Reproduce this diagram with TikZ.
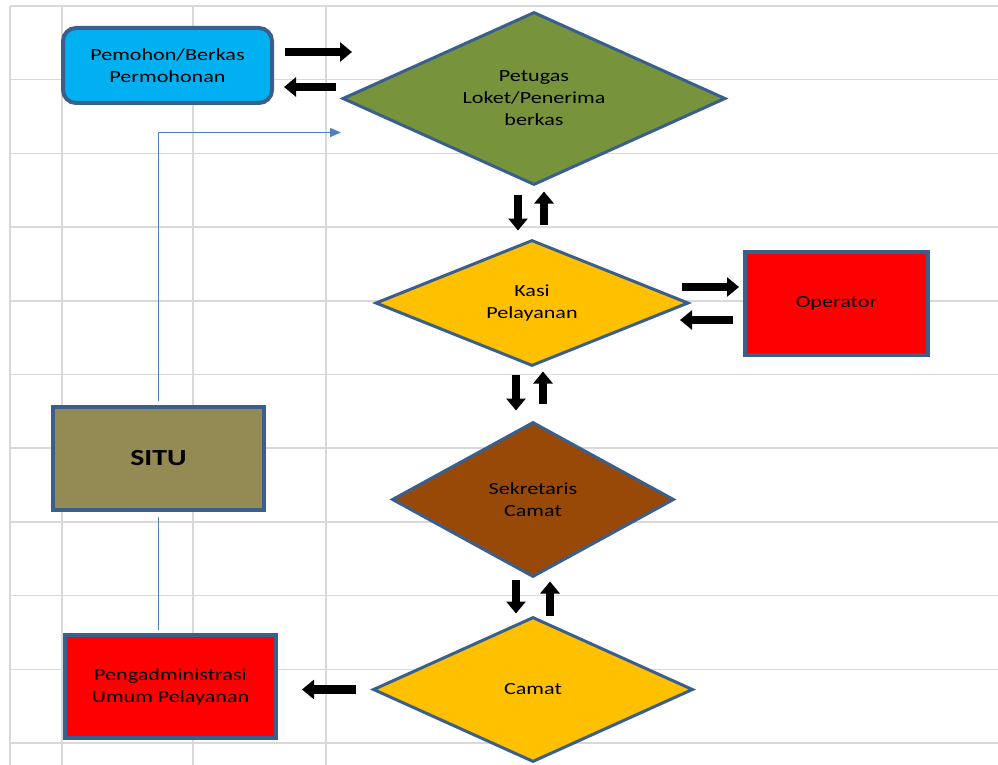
\documentclass[tikz,border=0pt]{standalone}
\usepackage{fontspec}
\setmainfont{Carlito}[FakeStretch=1.3]
\usetikzlibrary{shapes.geometric,arrows.meta}
\definecolor{gridc}{HTML}{D9D9D9}
\definecolor{bord}{HTML}{3B5F8C}
\definecolor{cyanf}{HTML}{00B0F0}
\definecolor{olivef}{HTML}{77933C}
\definecolor{goldf}{HTML}{FFC000}
\definecolor{brownf}{HTML}{984807}
\definecolor{khakif}{HTML}{948A54}
\definecolor{redf}{HTML}{FF0000}
\definecolor{bluel}{HTML}{4F81BD}
\tikzset{
  gridline/.style={draw=gridc, line width=1.5pt},
  box/.style={rectangle, draw=bord, line width=4pt, inner sep=0pt, align=center,
     font=\fontsize{17}{22}\selectfont},
  dia/.style={diamond, draw=bord, line width=3pt, inner sep=0pt, align=center,
     font=\fontsize{17}{22}\selectfont},
  bigarr/.style={line width=8.5pt, -{Triangle[width=19pt,length=12pt]}},
  blueline/.style={draw=bluel, line width=1.3pt},
}
\begin{document}
\begin{tikzpicture}[x=1pt,y=-1pt]
\useasboundingbox (0,0) rectangle (998,765);
% grid
\foreach \k in {0,...,10} {
  \draw[gridline] (10,{6+73.7*\k}) -- (998,{6+73.7*\k});
}
\foreach \xx in {10,62,193,326} {
  \draw[gridline] (\xx,6) -- (\xx,765);
}
% nodes
\node[box, rounded corners=13pt, fill=cyanf, minimum width=209pt, minimum height=75pt]
  (pem) at (167.5,65.5) {Pemohon/Berkas\\Permohonan};
\node[dia, fill=olivef, minimum width=383pt, minimum height=173pt, aspect=2.2]
  (pet) at (534,98.5) {Petugas\\Loket/Penerima\\berkas};
\node[dia, fill=goldf, minimum width=313pt, minimum height=126pt, aspect=2.48]
  (kasi) at (532,303) {Kasi\\Pelayanan};
\node[box, fill=redf, minimum width=183pt, minimum height=103pt]
  (op) at (836.5,303.5) {Operator};
\node[dia, fill=brownf, minimum width=282pt, minimum height=155pt, aspect=1.82]
  (sek) at (533,499.5) {Sekretaris\\Camat};
\node[dia, fill=goldf, minimum width=320pt, minimum height=145pt, aspect=2.2]
  (cam) at (533,689.5) {Camat};
\node[box, fill=khakif, minimum width=211pt, minimum height=103pt,
      font=\fontsize{23}{26}\selectfont\bfseries]
  (situ) at (158.5,458.5) {SITU};
\node[box, fill=redf, minimum width=211pt, minimum height=103pt]
  (adm) at (170.5,686.5) {Pengadministrasi\\Umum Pelayanan};
% black arrows
\draw[bigarr] ([xshift=11pt,yshift=13.5pt]pem.east) -- ([xshift=11pt,yshift=13.5pt]pem.east -| pet.west);
\draw[bigarr] ([xshift=-5pt,yshift=-21.5pt]pem.east -| pet.west) -- ([xshift=10pt,yshift=-21.5pt]pem.east);
\draw[bigarr] ([xshift=-16pt,yshift=-8pt]pet.south) -- ([xshift=-14pt,yshift=8pt]kasi.north);
\draw[bigarr] ([xshift=12pt,yshift=14pt]kasi.north) -- ([xshift=10pt,yshift=-5pt]pet.south);
\draw[bigarr] ([xshift=-8pt,yshift=16pt]kasi.east) -- ([xshift=-4pt,yshift=16.5pt]op.west);
\draw[bigarr] ([xshift=-10pt,yshift=-16.5pt]op.west) -- ([xshift=-10pt,yshift=-17pt]kasi.east);
\draw[bigarr] ([xshift=-16pt,yshift=-7pt]kasi.south) -- ([xshift=-17pt,yshift=10pt]sek.north);
\draw[bigarr] ([xshift=10pt,yshift=17pt]sek.north) -- ([xshift=11pt,yshift=-4pt]kasi.south);
\draw[bigarr] ([xshift=-17pt,yshift=-1pt]sek.south) -- ([xshift=-17pt,yshift=2pt]cam.north);
\draw[bigarr] ([xshift=17pt]cam.north) -- ([xshift=17pt,yshift=-3pt]sek.south);
\draw[bigarr] ([xshift=-16pt]cam.west) -- ([xshift=24pt]adm.east |- cam.west);
% blue connectors
\draw[blueline, -{Triangle[width=9pt,length=11pt]}] ([yshift=4pt]situ.north) |- ([yshift=-34pt]pet.west);
\draw[blueline] ([yshift=-5pt]situ.south) -- ([yshift=3pt]situ.south |- adm.north);
\end{tikzpicture}
\end{document}
